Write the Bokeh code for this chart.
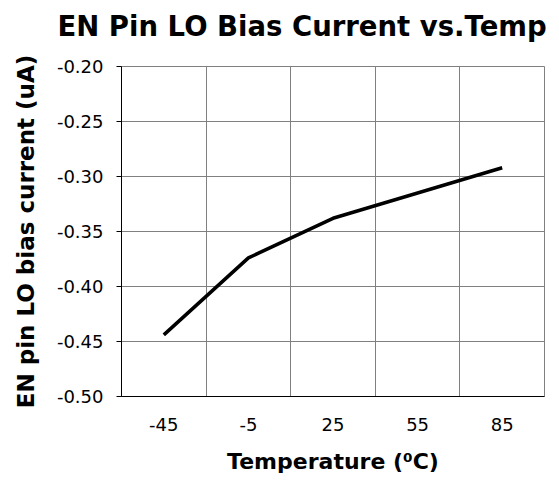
from bokeh.plotting import figure
from bokeh.models import FixedTicker, NumeralTickFormatter, Range1d, Title
from bokeh.embed import file_html
from bokeh.resources import INLINE

title_text = "EN Pin LO Bias Current vs.Temp"
temps = ["-45", "-5", "25", "55", "85"]
current = [-0.444, -0.374, -0.338, -0.315, -0.292]
y_ticks = [-0.50, -0.45, -0.40, -0.35, -0.30, -0.25, -0.20]

xs = [i + 0.5 for i in range(len(temps))]

p = figure(frame_width=423, frame_height=330, output_backend="svg", toolbar_location=None,
           x_range=Range1d(0, len(temps)), y_range=Range1d(-0.5, -0.2),
           min_border_left=121, min_border_right=6, min_border_top=66, min_border_bottom=76)

# real title, with a thin spacer title stacked between it and the frame
p.title = Title(text=title_text, text_font="DejaVu Sans", text_font_style="bold",
                text_font_size="27.5px", align="left", vertical_align="top",
                offset=-64, standoff=0, text_color="black")
p.add_layout(Title(text=" ", text_font_size="1px", standoff=20), "above")

p.line(xs, current, line_color="black", line_width=3.5)

p.xaxis.ticker = FixedTicker(ticks=xs)
p.xaxis.major_label_overrides = {x: t for x, t in zip(xs, temps)}
p.xaxis.major_tick_out = 0
p.xaxis.major_tick_in = 0
p.xaxis.minor_tick_line_color = None
p.xaxis.axis_label = "Temperature (\u2070C)"
p.xaxis.major_label_standoff = 21

p.yaxis.ticker = FixedTicker(ticks=y_ticks)
p.yaxis.formatter = NumeralTickFormatter(format="0.00")
p.yaxis.major_tick_out = 5
p.yaxis.major_tick_in = 0
p.yaxis.minor_tick_line_color = None
p.yaxis.axis_label = "EN pin LO bias current (uA)"
p.yaxis.major_label_standoff = 13

for ax in (p.xaxis, p.yaxis):
    ax.axis_line_color = "black"
    ax.major_tick_line_color = "black"
    ax.major_label_text_font = "DejaVu Sans"
    ax.major_label_text_font_size = "18px"
    ax.major_label_text_color = "black"
    ax.axis_label_text_font = "DejaVu Sans"
    ax.axis_label_text_font_style = "bold"
    ax.axis_label_text_color = "black"

p.xaxis.axis_label_text_font_size = "22px"
p.xaxis.axis_label_standoff = 15
p.yaxis.axis_label_text_font_size = "23px"
p.yaxis.axis_label_standoff = 15

p.xgrid.ticker = FixedTicker(ticks=[1, 2, 3, 4])
p.ygrid.ticker = FixedTicker(ticks=y_ticks)
for g in (p.xgrid, p.ygrid):
    g.grid_line_color = "#808080"
    g.grid_line_width = 1

p.outline_line_color = "#808080"
p.outline_line_width = 1
p.background_fill_color = "white"
p.border_fill_color = "white"

open("out.html", "w").write(file_html(p, INLINE))
